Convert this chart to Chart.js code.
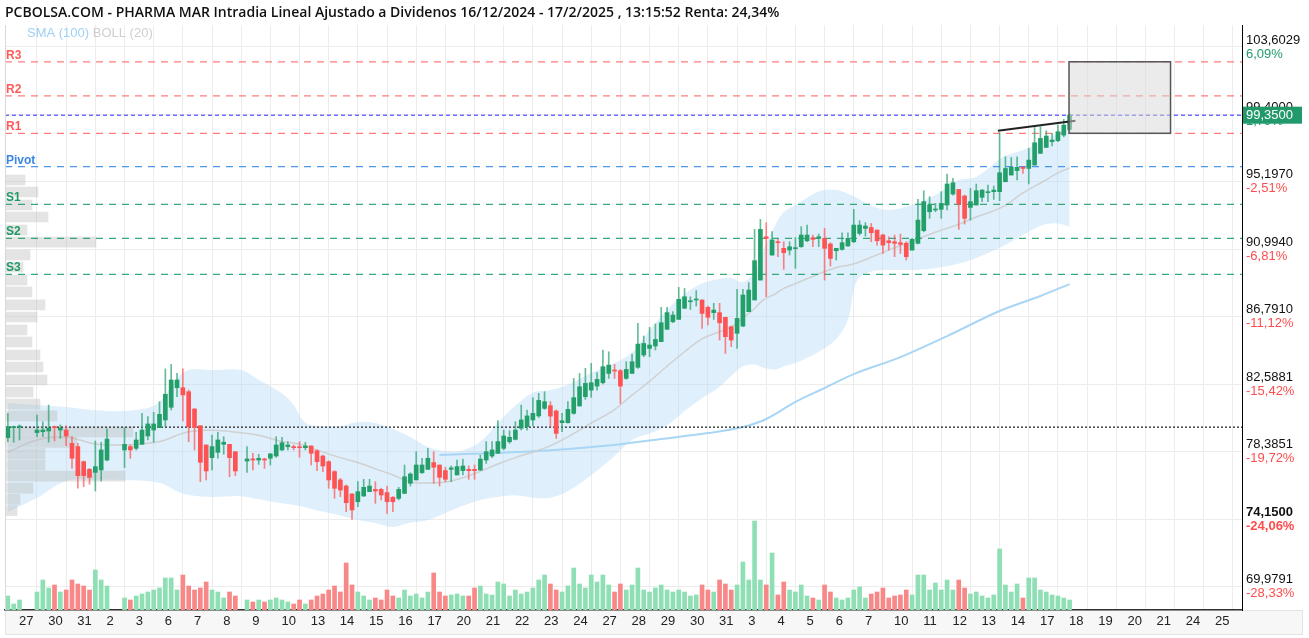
<!DOCTYPE html>
<html><head><meta charset="utf-8">
<script src="https://cdn.jsdelivr.net/npm/chart.js@4.4.1/dist/chart.umd.min.js"></script>
<style>html,body{margin:0;padding:0;background:#fff;}canvas{display:block;}</style>
</head><body>
<canvas id="c" width="1309" height="638"></canvas>
<script>
// ---------- DATA ----------
const TITLE = 'PCBOLSA.COM - PHARMA MAR Intradia Lineal Ajustado a Dividenos 16/12/2024 - 17/2/2025 , 13:15:52 Renta: 24,34%';
const legendNames = ['SMA (100)', 'BOLL (20)'];
const FIRST_SLOT = -5; // slot index of first bar (5 bars per trading day)

const openP = [
 79.25,79.87,79.90,null,null,79.56,79.62,79.66,79.93,79.72,
 79.72,78.89,78.69,77.75,77.27,77.08,77.23,77.85,null,null,
 78.48,78.69,78.58,78.83,79.35,79.72,79.87,80.35,81.14,82.36,
 82.36,82.11,81.03,79.99,78.79,78.00,78.33,78.83,78.83,78.37,
 null,77.79,77.92,77.85,77.92,77.96,78.10,78.48,78.68,78.68,
 78.68,78.62,78.73,78.43,78.10,77.75,77.13,76.61,76.23,75.73,
 75.25,75.61,75.88,76.02,76.02,75.82,75.53,75.46,75.77,76.40,
 76.61,77.06,77.27,77.69,77.54,77.19,77.27,76.92,77.19,77.27,
 77.27,77.23,77.85,78.10,78.27,78.58,78.99,79.14,79.83,79.93,
 80.35,80.60,81.07,81.24,80.91,80.18,80.18,80.76,81.22,81.80,
 82.21,82.46,82.67,83.25,83.46,83.42,82.94,83.25,83.63,84.40,
 84.81,84.96,85.23,86.00,86.47,86.62,87.31,87.72,87.83,87.83,
 87.37,87.04,87.04,86.75,86.16,85.75,86.20,87.10,87.83,89.07,
 91.77,90.63,91.46,91.05,90.94,91.03,91.15,91.52,91.71,91.67,
 91.67,91.32,90.90,90.98,91.19,91.46,91.98,92.29,92.35,92.19,
 91.88,91.52,91.46,91.40,91.36,90.94,91.36,92.15,93.33,93.44,
 93.48,93.75,94.43,94.72,94.31,93.60,93.75,94.23,94.52,94.58,
 94.58,95.20,95.62,95.89,96.10,96.03,96.24,96.97,97.34,97.70,
 97.76,98.11,98.46];
const highP = [
 80.76,79.97,80.04,null,null,80.66,80.24,81.28,79.97,80.04,
 79.99,79.31,78.89,77.79,77.33,79.04,78.96,79.79,null,null,
 79.87,78.79,79.58,80.76,80.56,80.83,81.49,83.53,83.82,83.26,
 83.53,82.22,81.07,79.99,78.79,79.41,79.58,79.31,78.83,78.37,
 null,78.69,78.27,78.21,77.96,78.27,79.31,79.27,79.00,78.79,
 79.00,78.95,78.73,78.48,78.16,77.81,77.19,76.71,76.30,75.77,
 76.50,76.65,76.65,76.50,76.09,76.23,75.57,76.15,77.54,77.06,
 78.37,77.96,78.58,78.37,77.54,77.40,77.48,77.85,77.91,77.48,
 77.54,78.16,79.00,79.00,80.31,79.72,79.68,80.24,81.28,80.97,
 81.75,82.01,82.11,81.49,80.97,80.76,81.49,82.94,83.25,83.57,
 83.88,83.30,84.71,84.60,83.81,83.50,83.98,84.46,86.37,85.58,
 86.12,86.33,87.37,87.37,87.10,88.62,88.55,88.03,88.41,87.83,
 87.45,87.62,87.62,86.75,86.20,88.49,88.49,88.91,92.23,92.85,
 92.65,92.09,91.61,91.46,91.46,91.73,92.40,92.50,91.88,91.94,
 92.29,91.40,91.05,92.02,92.02,93.48,92.77,92.65,92.60,92.19,
 91.94,91.77,91.88,91.94,91.46,91.67,94.10,94.64,94.27,93.85,
 94.58,95.68,95.41,94.72,94.37,94.79,95.06,94.72,94.99,94.93,
 98.26,96.76,96.72,96.76,96.14,97.28,98.59,98.63,98.38,98.22,
 98.73,99.09,99.45];
const lowP = [
 78.99,78.96,79.10,null,null,79.31,79.31,78.96,79.04,79.20,
 78.75,77.33,76.09,76.19,76.34,75.92,76.54,77.79,null,null,
 77.38,77.96,78.48,78.83,79.10,78.96,79.87,79.93,80.97,81.80,
 80.29,78.99,78.48,76.50,76.61,77.23,77.96,78.21,76.81,76.88,
 null,77.08,77.23,77.58,77.33,77.54,78.02,78.43,78.48,78.48,
 78.02,78.48,77.54,77.19,77.13,76.09,75.46,75.57,74.63,74.15,
 74.94,75.57,75.88,75.15,75.36,74.53,74.63,75.36,75.77,76.23,
 76.61,77.02,77.27,76.40,76.23,76.50,76.50,76.92,76.92,76.65,
 76.65,77.19,77.64,78.00,78.27,78.48,78.89,79.10,79.72,79.72,
 80.00,80.50,81.01,79.93,79.20,79.62,80.15,80.70,81.22,81.63,
 81.76,82.21,82.60,82.94,82.94,81.38,82.88,83.25,83.57,84.29,
 84.29,84.71,85.23,86.00,86.41,86.62,87.31,87.24,87.45,86.06,
 86.27,86.62,85.33,84.50,84.92,84.81,86.16,87.10,87.83,89.07,
 88.03,90.63,90.53,89.74,90.63,89.80,91.11,91.46,91.15,91.15,
 89.07,89.94,90.32,90.94,91.19,91.40,91.88,91.81,91.46,91.25,
 90.73,90.94,90.53,90.73,90.32,90.94,91.32,92.08,92.92,93.33,
 92.92,93.44,94.37,92.23,92.56,92.81,93.75,93.96,93.96,94.10,
 94.02,95.20,95.62,95.31,95.72,95.06,96.24,96.97,97.34,97.43,
 97.70,98.00,98.30];
const closeP = [
 79.93,79.93,79.97,null,null,79.72,79.72,79.83,79.87,79.83,
 79.35,77.96,76.88,76.88,76.77,77.44,78.48,79.16,null,null,
 78.83,78.48,79.10,79.72,80.10,80.10,80.70,81.95,82.84,82.84,
 81.91,79.93,79.87,77.71,77.17,78.69,79.10,78.96,78.00,77.17,
 null,77.92,77.85,77.96,77.85,78.23,78.79,78.93,78.79,78.62,
 78.62,78.73,78.27,77.75,77.48,76.61,76.09,75.98,75.19,74.74,
 75.88,76.15,76.23,75.92,75.67,75.25,75.25,76.02,76.81,76.98,
 77.54,77.54,77.96,77.40,76.77,76.65,77.36,77.44,77.48,77.19,
 77.19,77.91,78.37,78.48,79.00,79.35,79.27,79.72,80.35,80.60,
 80.76,81.57,81.49,80.59,79.51,80.30,81.01,81.74,82.42,82.63,
 82.67,82.88,83.67,83.77,83.40,82.46,83.50,83.98,85.08,85.12,
 85.02,85.37,86.41,87.04,86.89,87.87,88.03,87.78,87.87,86.99,
 86.75,87.20,86.41,85.54,85.33,86.68,88.14,88.45,90.28,92.23,
 91.67,91.57,91.40,90.78,91.15,91.09,91.88,91.88,91.61,91.77,
 91.05,90.42,91.05,91.40,91.67,92.50,92.50,92.44,92.02,91.52,
 91.25,91.40,91.36,91.30,90.53,91.61,92.81,93.96,93.75,93.48,
 93.85,95.06,95.14,93.81,92.92,93.96,94.64,94.68,94.58,94.68,
 95.76,96.03,96.10,96.10,96.03,96.55,97.63,97.90,98.05,97.80,
 98.32,98.73,99.35];
const volumeK = [
 14,6,10,null,null,18,30,22,25,18,
 20,30,26,24,20,40,30,24,null,null,
 12,10,14,16,18,20,22,32,32,20,
 35,24,20,22,28,20,18,12,18,14,
 null,10,8,10,8,10,12,10,8,6,
 10,6,10,14,16,20,24,18,47,25,
 18,14,10,12,10,20,14,12,20,14,
 16,12,18,37,18,14,15,16,14,14,
 22,24,16,15,28,26,14,20,16,18,
 22,30,35,26,20,18,24,42,26,22,
 35,28,35,25,18,26,20,25,42,20,
 18,22,25,20,18,20,18,14,15,25,
 20,18,30,26,20,25,48,30,89,30,
 25,57,15,28,20,18,25,14,12,10,
 25,18,12,10,12,20,23,12,16,18,
 22,12,14,15,20,15,35,35,20,27,
 20,30,20,30,22,16,18,14,12,15,
 61,25,18,26,12,32,32,20,18,15,
 14,12,10];

// Bollinger (20) read at sample slots
const bbSlots = [-5,0,5,10,15,20,22,24,26,30,35,38,42,44,45.5,47,52,55,58,61,64,67,70,73,76,79,82,85,88,91,95,99,102,105,108,111,114,117,119,121,123,124.5,126.5,128,130,134,137,139,140.5,143,146,150,154,158,161,165.6,169,172.4,175,177];
const bbUpper = [81.41,81.28,81.15,80.95,80.91,81.22,81.90,82.96,83.46,83.46,83.46,82.84,82.0,81.28,80.35,80.03,79.97,80.22,80.16,79.78,79.29,78.66,78.40,78.45,79.0,80.15,81.25,82.05,82.21,82.55,83.28,83.90,84.55,85.95,87.2,88.2,88.85,89.15,89.20,88.95,89.57,90.94,92.45,93.31,93.75,94.6,94.68,94.45,94.2,93.7,93.44,93.75,94.37,95.31,95.50,96.74,97.18,97.7,98.24,98.55];
const bbMid   = [78.35,79.10,79.29,78.85,78.79,78.95,79.10,79.40,79.62,79.70,79.55,79.40,79.0,78.91,78.8,78.6,78.0,77.7,77.3,76.92,76.48,76.42,76.48,76.75,77.15,77.6,78.0,78.35,78.75,79.3,80.15,81.0,81.9,82.75,83.7,84.6,85.4,85.85,86.15,86.7,87.3,87.83,88.2,88.55,88.85,89.45,89.85,90.0,90.13,90.5,90.94,91.5,92.05,92.55,93.0,93.65,94.50,95.2,95.75,96.06];
const bbLower = [74.6,75.5,76.55,76.61,76.61,76.5,76.3,75.9,75.67,75.55,75.60,75.40,75.15,75.05,74.95,74.8,74.4,74.11,73.92,73.67,73.95,74.11,74.55,75.0,75.36,75.55,75.65,75.50,75.50,75.9,76.9,78.1,79.1,79.5,80.0,80.9,81.7,82.4,83.1,83.7,83.8,83.6,83.5,83.7,83.9,84.6,85.4,86.6,89.0,89.6,89.70,89.70,89.8,90.1,90.45,91.2,91.88,92.5,92.6,92.4];
// SMA (100)
const smaSlots = [69,86,97,107,115,121,125,130,135,140,148,156,165,172,177];
const smaVals  = [78.16,78.41,78.72,79.16,79.53,79.91,80.41,81.47,82.34,83.21,84.27,85.58,87.14,88.08,88.82];

// Volume profile (price level, volume k)
const vpPrice = [95.31,94.56,93.75,93.00,92.19,91.44,90.63,89.88,89.07,88.33,87.52,86.77,85.96,85.21,84.40,83.65,82.84,82.09,81.34,80.60,79.60,78.95,78.25,77.55,76.85,76.10,75.40,74.70];
const vpVol   = [20,33,27,43,22,91,25,18,22,27,40,32,22,27,35,38,42,28,35,52,128,72,40,40,120,28,15,12];

// Pivot levels
const levelNames  = ['R3','R2','R1','Pivot','S1','S2','S3'];
const levelValues = [102.68,100.56,98.22,96.14,93.79,91.67,89.43];
const lastPrice = 99.35;
const startClose = 79.90;

// Axis ticks
const dayTickSlots = [0,5,10,15,20,25,30,35,40,45,50,55,60,65,70,75,80,85,90,95,100,105,110,115,120,125,130,135,140,145,150,155,160,165,170,175,180,185,190,195,200,205];
const dayLabels = ['27','30','31','2','3','6','7','8','9','10','13','14','15','16','17','20','21','22','23','24','27','28','29','30','31','3','4','5','6','7','10','11','12','13','14','17','18','19','20','21','24','25'];
const yTickValues = [103.6029,99.4,95.197,90.994,86.791,82.5881,78.3851,74.15,69.9791];
const yTickLabels = ['103,6029','99,4000','95,1970','90,9940','86,7910','82,5881','78,3851','74,1500','69,9791'];
const yTickPct = ['6,09%','1,79%','-2,51%','-6,81%','-11,12%','-15,42%','-19,72%','-24,06%','-28,33%'];

// Annotations
const trendSlots = [164.7,178];
const trendVals = [98.38,99.01];
const boxSlots = [176.9,194.3];
const boxVals = [98.22,102.68];

// ---------- STYLE ----------
const X_MIN = -5.485, X_MAX = 206.55, Y_MIN = 68.501, Y_MAX = 104.973;
const VOL_MAX = 585, VP_MAX = 1237;
const GREEN = '#23a06a', RED = '#ff5252';
const FONT = '"Liberation Sans", Arial, sans-serif';

// ---------- BUILD ----------
const bodies = [], wicks = [], vols = [];
openP.forEach((o, i) => {
  if (o === null) return;
  const x = i + FIRST_SLOT;
  const up = closeP[i] >= o;
  bodies.push({x, y:[o, closeP[i]], up});
  wicks.push({x, y:[lowP[i], highP[i]], up});
  vols.push({x, y: volumeK[i], up});
});
const pts = (xs, ys) => xs.map((x, i) => ({x, y: ys[i]}));
const levelColor = n => n[0] === 'R' ? 'rgba(255,110,110,0.9)' : n[0] === 'S' ? 'rgba(35,160,106,0.9)' : 'rgba(60,140,230,0.9)';

const levelSets = levelNames.map((n, k) => ({
  type:'line', data:[{x:X_MIN,y:levelValues[k]},{x:X_MAX,y:levelValues[k]}],
  borderColor: levelColor(n), borderWidth:1.2, borderDash:[7,6], pointRadius:0, order:60
}));

const extras = {
  id:'extras',
  beforeDraw(chart){
    const {ctx, chartArea:ca} = chart;
    ctx.save();
    ctx.fillStyle = '#fff'; ctx.fillRect(0,0,chart.width,chart.height);
    ctx.fillStyle = '#f7f7f7'; ctx.fillRect(ca.left, ca.bottom, chart.width - ca.left - 6, 24);
    ctx.strokeStyle = '#e4e4e4'; ctx.lineWidth = 1;
    ctx.strokeRect(ca.left + 0.5, ca.bottom + 0.5, chart.width - ca.left - 7, 24);
    ctx.restore();
  },
  afterDatasetsDraw(chart){
    const {ctx, scales:{x, y}, chartArea:ca} = chart;
    ctx.save();
    const bx0 = x.getPixelForValue(boxSlots[0]), bx1 = x.getPixelForValue(boxSlots[1]);
    const by0 = y.getPixelForValue(boxVals[1]), by1 = y.getPixelForValue(boxVals[0]);
    ctx.fillStyle = 'rgba(215,215,215,0.5)';
    ctx.fillRect(bx0, by0, bx1 - bx0, by1 - by0);
    ctx.strokeStyle = '#555'; ctx.lineWidth = 1.5;
    ctx.strokeRect(bx0, by0, bx1 - bx0, by1 - by0);
    ctx.font = 'bold 12px ' + FONT; ctx.textBaseline = 'alphabetic'; ctx.textAlign = 'left';
    levelNames.forEach((n, k) => {
      ctx.fillStyle = n[0] === 'R' ? '#ff5a5a' : n[0] === 'S' ? '#1f9a66' : '#3a86e0';
      ctx.fillText(n, ca.left + 1, y.getPixelForValue(levelValues[k]) - 3);
    });
    ctx.strokeStyle = '#d8d8d8'; ctx.lineWidth = 1;
    ctx.beginPath(); ctx.moveTo(ca.left + 0.5, ca.top); ctx.lineTo(ca.left + 0.5, ca.bottom); ctx.stroke();
    ctx.restore();
  },
  afterDraw(chart){
    const {ctx, scales:{y}} = chart;
    ctx.save();
    ctx.font = '13px ' + FONT; ctx.textBaseline = 'middle'; ctx.textAlign = 'left';
    ctx.fillStyle = '#9dd1f4'; ctx.fillText(legendNames[0], 27, 33);
    ctx.fillStyle = '#cfcfcf'; ctx.fillText(legendNames[1], 27 + ctx.measureText(legendNames[0] + ' ').width, 33);
    yTickValues.forEach((v, i) => {
      ctx.font = (i === 7 ? 'bold ' : '') + '13px ' + FONT;
      ctx.fillStyle = yTickPct[i][0] === '-' ? '#ff4d4d' : '#1f9a68';
      ctx.fillText(yTickPct[i], y.left + 4, y.getPixelForValue(v) + 7);
    });
    const py = y.getPixelForValue(lastPrice);
    ctx.fillStyle = '#22996b';
    ctx.fillRect(y.left + 1, py - 8.5, 59, 17);
    ctx.fillStyle = '#fff'; ctx.font = '13px ' + FONT;
    ctx.fillText('99,3500', y.left + 4, py + 0.5);
    ctx.restore();
  }
};

new Chart(document.getElementById('c'), {
  type:'line',
  data:{ datasets:[
    {type:'line', data:pts(bbSlots,bbUpper), borderWidth:0, borderColor:'rgba(0,0,0,0)', pointRadius:0, tension:0.35,
     fill:'+1', backgroundColor:'rgba(178,218,246,0.42)', order:100},
    {type:'line', data:pts(bbSlots,bbLower), borderWidth:0, borderColor:'rgba(0,0,0,0)', pointRadius:0, tension:0.35, fill:false, order:100},
    {type:'line', data:pts(bbSlots,bbMid), borderColor:'rgba(205,205,205,0.9)', borderWidth:1.5, pointRadius:0, tension:0.35, fill:false, order:90},
    {type:'line', data:pts(smaSlots,smaVals), borderColor:'#a9d6f5', borderWidth:2, pointRadius:0, tension:0.35, fill:false, order:90},
    {type:'bar', indexAxis:'y', xAxisID:'xvp', yAxisID:'y', data:vpPrice.map((p,i)=>({x:vpVol[i], y:p})),
     backgroundColor:'rgba(185,185,185,0.38)', barThickness:10, grouped:false, order:80},
    {type:'bar', yAxisID:'yv', data:vols, barThickness:4, grouped:false, order:70,
     backgroundColor: c => c.raw && c.raw.up ? '#8fdfb5' : '#f88787'},
    ...levelSets,
    {type:'line', data:[{x:X_MIN,y:lastPrice},{x:X_MAX,y:lastPrice}], borderColor:'#2a2aff', borderWidth:1, borderDash:[4,3], pointRadius:0, order:55},
    {type:'line', data:[{x:X_MIN,y:startClose},{x:X_MAX,y:startClose}], borderColor:'#444', borderWidth:1.5, borderDash:[2,2], pointRadius:0, order:55},
    {type:'bar', data:wicks, barThickness:1, grouped:false, order:5,
     backgroundColor: c => c.raw && c.raw.up ? 'rgba(35,160,106,0.7)' : 'rgba(255,82,82,0.7)'},
    {type:'bar', data:bodies, barThickness:4, grouped:false, minBarLength:1, order:4,
     backgroundColor: c => c.raw && c.raw.up ? GREEN : RED},
    {type:'line', data:pts(trendSlots,trendVals), borderColor:'#222', borderWidth:2, pointRadius:0, order:1}
  ]},
  options:{
    responsive:false, animation:false, devicePixelRatio:1,
    layout:{padding:{left:5,right:0,top:0,bottom:0}},
    plugins:{
      legend:{display:false}, tooltip:{enabled:false},
      title:{display:true, text:TITLE, align:'start', color:'#111',
        font:{family:'"Open Sans", sans-serif', size:14, weight:'600', lineHeight:1.2}, padding:{top:5,bottom:3.2}}
    },
    scales:{
      x:{type:'linear', min:X_MIN, max:X_MAX, offset:false,
        afterBuildTicks: s => { s.ticks = dayTickSlots.map(v => ({value:v})); },
        afterFit: s => { s.height = 28; },
        ticks:{callback:(v,i) => dayLabels[i], autoSkip:false, maxRotation:0, align:'start', labelOffset:-18, padding:4,
          font:{family:FONT, size:13}, color:'#222'},
        grid:{color:'#ececec', drawTicks:false, offset:false}, border:{display:true, color:'#333', width:1.5}},
      y:{type:'linear', position:'right', min:Y_MIN, max:Y_MAX, offset:false,
        afterBuildTicks: s => { s.ticks = yTickValues.map(v => ({value:v})); },
        afterFit: s => { s.width = 67; },
        ticks:{callback:(v,i) => yTickLabels[i], padding:4, labelOffset:-7,
          font: c => ({family:FONT, size:13, weight: c.index === 7 ? 'bold' : 'normal'}), color:'#111'},
        grid:{color:'#ececec', drawTicks:false, offset:false}, border:{display:true, color:'#000', width:1}},
      yv:{type:'linear', display:false, min:0, max:VOL_MAX, offset:false, grid:{offset:false}},
      xvp:{type:'linear', display:false, min:0, max:VP_MAX, offset:false, grid:{offset:false}}
    }
  },
  plugins:[extras]
});
</script>
</body></html>
